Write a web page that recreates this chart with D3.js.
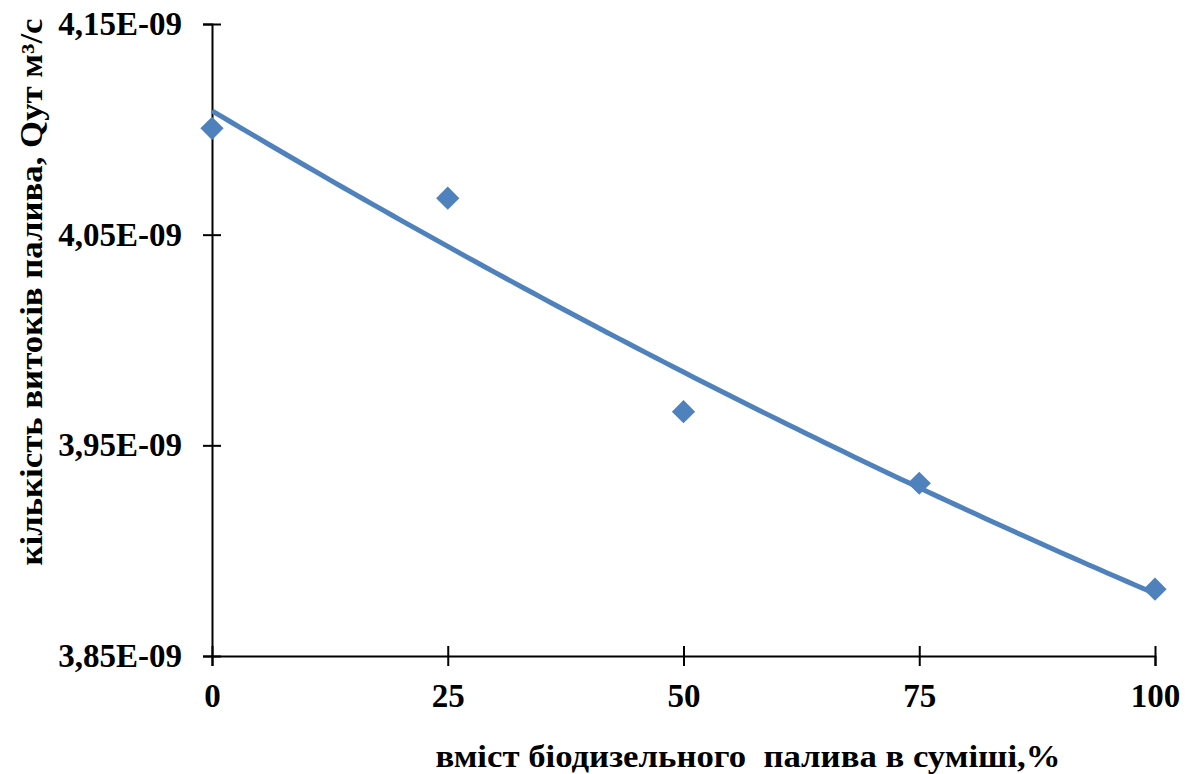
<!DOCTYPE html>
<html>
<head>
<meta charset="utf-8">
<script src="https://cdn.jsdelivr.net/npm/d3@7"></script>
<style>
  html, body { margin: 0; padding: 0; background: #fff; }
  text { font-family: "Liberation Serif", "Times New Roman", serif; font-weight: bold; fill: #000; }
</style>
</head>
<body>
<div id="chart"></div>
<script>
// biodiesel content, %
var blendPct = [0, 25, 50, 75, 100];
// leakage rate, m3/s
var leakQ = [4.1005e-9, 4.0673e-9, 3.9660e-9, 3.9320e-9, 3.8817e-9];

var xTicks = [0, 25, 50, 75, 100];
var yTicks = [3.85e-9, 3.95e-9, 4.05e-9, 4.15e-9];
var yTickLabels = ["3,85E-09", "3,95E-09", "4,05E-09", "4,15E-09"];

var xTitle = "вміст біодизельного  палива в суміші,%";
var yTitle = "кількість витоків палива, Qут м³/с";

var width = 1198, height = 774;
var margin = { top: 24, right: 43, bottom: 118, left: 212 };

var svg = d3.select("#chart").append("svg")
    .attr("width", width)
    .attr("height", height);

var x = d3.scaleLinear().domain([0, 100]).range([margin.left, width - margin.right]);
var y = d3.scaleLinear().domain([3.85e-9, 4.15e-9]).range([height - margin.bottom, margin.top]);

// Y axis (cross ticks)
var yAxis = svg.append("g")
    .attr("transform", "translate(" + margin.left + ",0)")
    .call(d3.axisLeft(y).tickValues(yTicks).tickSizeOuter(0).tickSize(9).tickPadding(21)
        .tickFormat(function (d, i) { return yTickLabels[i]; }));
yAxis.select(".domain").attr("stroke", "#000").attr("stroke-width", 2);
yAxis.selectAll(".tick line").attr("x1", -9).attr("x2", 9).attr("stroke", "#000").attr("stroke-width", 2);
yAxis.selectAll(".tick text").style("font-size", "33px").style("font-family", "'Liberation Serif', serif").style("font-weight", "bold");

// X axis (cross ticks)
var xAxis = svg.append("g")
    .attr("transform", "translate(0," + y.range()[0] + ")")
    .call(d3.axisBottom(x).tickValues(xTicks).tickSizeOuter(0).tickSize(10).tickPadding(18));
xAxis.select(".domain").attr("stroke", "#000").attr("stroke-width", 2);
xAxis.selectAll(".tick line").attr("y1", -10).attr("y2", 10).attr("stroke", "#000").attr("stroke-width", 2);
xAxis.selectAll(".tick text").style("font-size", "33px").style("font-family", "'Liberation Serif', serif").style("font-weight", "bold");

// Polynomial (order 2) trendline, least squares from the data
function polyFit2(xs, ys) {
    var n = xs.length, s = [0, 0, 0, 0, 0], t = [0, 0, 0];
    for (var i = 0; i < n; i++) {
        var p = 1;
        for (var k = 0; k < 5; k++) { s[k] += p; if (k < 3) t[k] += p * ys[i]; p *= xs[i]; }
    }
    var A = [[s[0], s[1], s[2], t[0]], [s[1], s[2], s[3], t[1]], [s[2], s[3], s[4], t[2]]];
    for (var c = 0; c < 3; c++) {
        for (var r = c + 1; r < 3; r++) {
            var f = A[r][c] / A[c][c];
            for (var j = c; j < 4; j++) A[r][j] -= f * A[c][j];
        }
    }
    var coef = [0, 0, 0];
    for (var r2 = 2; r2 >= 0; r2--) {
        var v = A[r2][3];
        for (var j2 = r2 + 1; j2 < 3; j2++) v -= A[r2][j2] * coef[j2];
        coef[r2] = v / A[r2][r2];
    }
    return coef;
}
// scale y to 1e-9 units for numeric stability
var coef = polyFit2(blendPct, leakQ.map(function (v) { return v * 1e9; }));
var trendPts = d3.range(0, 100.5, 1).map(function (xv) {
    return [xv, (coef[0] + coef[1] * xv + coef[2] * xv * xv) * 1e-9];
});

var blue = "#4F81BD";

// markers
svg.append("g").selectAll("path")
    .data(blendPct)
    .enter().append("path")
    .attr("d", d3.symbol().type(d3.symbolSquare).size(270))
    .attr("transform", function (d, i) {
        return "translate(" + x(d) + "," + y(leakQ[i]) + ") rotate(45)";
    })
    .attr("fill", blue);

svg.append("path")
    .datum(trendPts)
    .attr("fill", "none")
    .attr("stroke", blue)
    .attr("stroke-width", 5)
    .attr("d", d3.line().x(function (d) { return x(d[0]); }).y(function (d) { return y(d[1]); }));

// axis titles
svg.append("text")
    .attr("x", 748)
    .attr("y", 767)
    .attr("text-anchor", "middle")
    .style("font-size", "31px")
    .attr("xml:space", "preserve")
    .attr("textLength", 625)
    .attr("lengthAdjust", "spacingAndGlyphs")
    .text(xTitle);

svg.append("text")
    .attr("transform", "translate(42,292) rotate(-90)")
    .attr("text-anchor", "middle")
    .style("font-size", "31px")
    .attr("textLength", 547)
    .attr("lengthAdjust", "spacingAndGlyphs")
    .text(yTitle);
</script>
</body>
</html>
